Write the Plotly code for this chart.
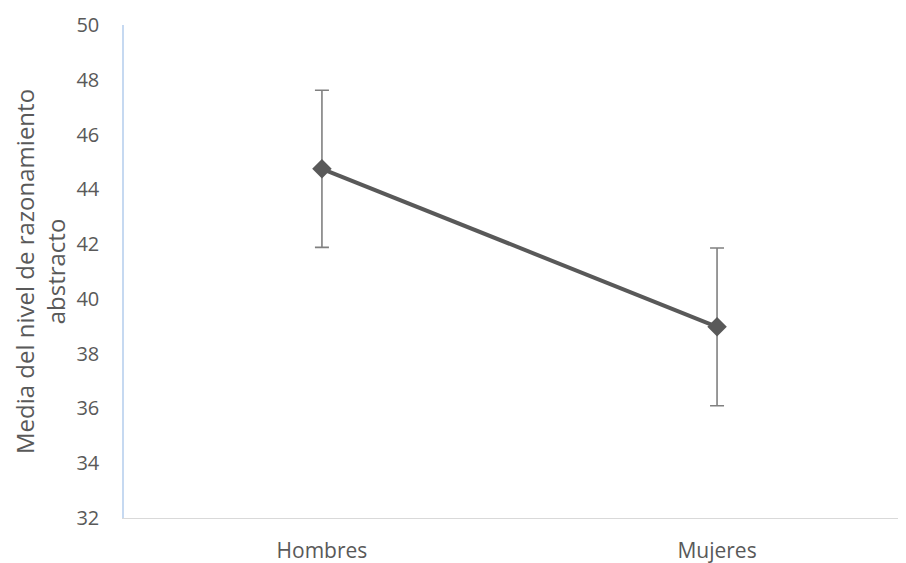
import plotly.graph_objects as go

categories = ["Hombres", "Mujeres"]
means = [44.75, 38.98]
errors = [2.87, 2.88]
y_ticks = [32, 34, 36, 38, 40, 42, 44, 46, 48, 50]

fig = go.Figure()
fig.add_trace(go.Scatter(
    x=[0, 1], y=means, mode="lines+markers",
    line=dict(color="#595959", width=4),
    marker=dict(symbol="diamond", size=15, color="#595959"),
    error_y=dict(type="data", array=errors, visible=True, color="#808080", thickness=1.6, width=7),
    showlegend=False,
))

font_family = "Open Sans, sans-serif"
fig.update_layout(
    width=890, height=555,
    margin=dict(l=116, r=0, t=17, b=45),
    plot_bgcolor="white", paper_bgcolor="white",
    xaxis=dict(
        range=[-0.501, 1.458], tickmode="array", tickvals=[0, 1], ticktext=categories,
        showgrid=False, zeroline=False, showline=True, linecolor="#d9d9d9", linewidth=1,
        ticks="", ticklabelstandoff=14, automargin=False,
        tickfont=dict(family=font_family, size=21, color="#595959"),
    ),
    yaxis=dict(
        range=[32, 50], tickmode="array", tickvals=y_ticks,
        ticktext=[str(v) for v in y_ticks],
        showgrid=False, zeroline=False, showline=True, linecolor="#c6d9f1", linewidth=1.5,
        ticks="", ticklabelstandoff=19,
        tickfont=dict(family=font_family, size=20, color="#595959"),
        title=dict(text="Media del nivel de razonamiento<br>abstracto",
                   font=dict(family=font_family, size=24, color="#595959"), standoff=13),
    ),
)

fig.write_html("out.html")
